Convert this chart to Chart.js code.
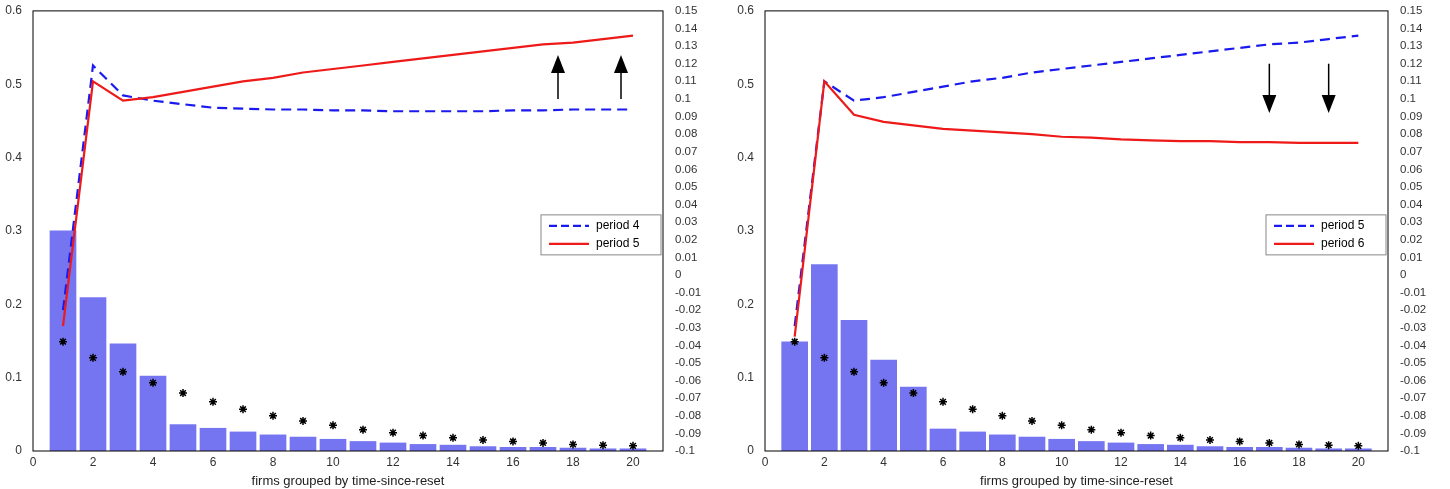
<!DOCTYPE html>
<html><head><meta charset="utf-8">
<script src="https://cdn.jsdelivr.net/npm/chart.js@4"></script>
<style>
body{margin:0;background:#fff;width:1450px;height:489px;overflow:hidden;display:flex}
.c{position:relative;width:725px;height:489px}
</style></head><body>
<div class="c"><canvas id="a"></canvas></div>
<div class="c"><canvas id="b"></canvas></div>
<script>
const xs = [1,2,3,4,5,6,7,8,9,10,11,12,13,14,15,16,17,18,19,20];
const barsA = [0.300,0.209,0.146,0.102,0.036,0.031,0.026,0.022,0.019,0.016,0.013,0.011,0.009,0.008,0.006,0.005,0.005,0.004,0.003,0.003];
const barsB = [0.149,0.254,0.178,0.124,0.087,0.030,0.026,0.022,0.019,0.016,0.013,0.011,0.009,0.008,0.006,0.005,0.005,0.004,0.003,0.003];
const stars = [0.149,0.127,0.108,0.093,0.079,0.067,0.057,0.048,0.041,0.035,0.029,0.025,0.021,0.018,0.015,0.013,0.011,0.009,0.008,0.007];
const period4 = [-0.020,0.119,0.102,0.099,0.097,0.095,0.0945,0.094,0.094,0.0935,0.0935,0.093,0.093,0.093,0.093,0.0935,0.0935,0.094,0.094,0.094];
const rising = [-0.029,0.110,0.099,0.101,0.104,0.107,0.110,0.112,0.115,0.117,0.119,0.121,0.123,0.125,0.127,0.129,0.131,0.132,0.134,0.136];
const period6 = [-0.035,0.110,0.091,0.087,0.085,0.083,0.082,0.081,0.080,0.0785,0.078,0.077,0.0765,0.076,0.076,0.0755,0.0755,0.075,0.075,0.075];
const leftTicks = [0,0.1,0.2,0.3,0.4,0.5,0.6];
const arrowsA = {xs:[17.5,19.6], from:0.100, to:0.125};
const arrowsB = {xs:[17.0,19.0], from:0.120, to:0.092};

function pts(v){return xs.map((x,i)=>({x:x,y:v[i]}));}

function make(id, bars, dashedVals, solidVals, dashedName, solidName, arrows, leftW){
  const extra = {
    id:'extra',
    afterDatasetsDraw(ch){
      const c=ch.ctx, xa=ch.scales.x, yr=ch.scales.y2, a=ch.chartArea;
      c.save();
      c.strokeStyle='#000'; c.lineWidth=1; c.strokeRect(a.left,a.top,a.right-a.left,a.bottom-a.top);
      c.fillStyle='#000'; c.lineWidth=1.5;
      arrows.xs.forEach(x=>{
        const px=xa.getPixelForValue(x), y0=yr.getPixelForValue(arrows.from), y1=yr.getPixelForValue(arrows.to);
        const dir = y1<y0?1:-1;
        c.beginPath(); c.moveTo(px,y0); c.lineTo(px,y1+dir*16); c.stroke();
        c.beginPath(); c.moveTo(px,y1); c.lineTo(px-7,y1+dir*18); c.lineTo(px+7,y1+dir*18); c.closePath(); c.fill();
      });
      const lx=a.right-122, ly=yr.getPixelForValue(0.033)-2, lw=120, lh=40;
      c.fillStyle='#fff'; c.fillRect(lx,ly,lw,lh);
      c.strokeStyle='#888'; c.lineWidth=1; c.strokeRect(lx,ly,lw,lh);
      c.font='12px "Liberation Sans", Arial'; c.fillStyle='#000'; c.textBaseline='middle';
      c.lineWidth=2.2;
      c.strokeStyle='#1a1aee'; c.setLineDash([8,4]);
      c.beginPath(); c.moveTo(lx+8,ly+11); c.lineTo(lx+48,ly+11); c.stroke();
      c.setLineDash([]); c.strokeStyle='#ee1a1a';
      c.beginPath(); c.moveTo(lx+8,ly+29); c.lineTo(lx+48,ly+29); c.stroke();
      c.fillText(dashedName,lx+55,ly+11); c.fillText(solidName,lx+55,ly+29);
      c.restore();
    }
  };
  new Chart(document.getElementById(id),{
    data:{datasets:[
      {type:'line',label:dashedName,data:pts(dashedVals),yAxisID:'y2',borderColor:'#1a1aee',borderDash:[10,6],borderWidth:2.2,pointRadius:0,tension:0,order:1},
      {type:'line',label:solidName,data:pts(solidVals),yAxisID:'y2',borderColor:'#ee1a1a',borderWidth:2.2,pointRadius:0,tension:0,order:0},
      {type:'scatter',label:'stars',data:pts(stars),yAxisID:'y',pointStyle:'star',radius:4,borderColor:'#000',borderWidth:1.5,backgroundColor:'#000',order:2},
      {type:'bar',label:'bars',data:pts(bars),yAxisID:'y',backgroundColor:'rgba(110,110,240,0.95)',borderWidth:0,barThickness:26,order:3}
    ]},
    plugins:[extra],
    options:{
      responsive:true,maintainAspectRatio:false,animation:false,
      layout:{padding:{top:7,bottom:0,right:2}},
      plugins:{legend:{display:false},tooltip:{enabled:false}},
      scales:{
        x:{type:'linear',offset:false,min:0,max:21,grid:{display:false,drawTicks:false},border:{display:false},
           ticks:{stepSize:2,padding:4,color:'#333',font:{size:12,family:'"Liberation Sans", Arial'},callback:v=>v%2===0&&v<=20?v:''},
           title:{display:true,text:'firms grouped by time-since-reset',color:'#222',font:{size:13,family:'"Liberation Sans", Arial'},padding:{top:0,bottom:0}}},
        y:{position:'left',min:0,max:0.6,grid:{display:false},border:{display:false},
           afterBuildTicks:s=>{s.ticks=leftTicks.map(v=>({value:v}));},
           afterFit:s=>{s.width=leftW;},
           ticks:{color:'#333',font:{size:12,family:'"Liberation Sans", Arial'},callback:v=>String(+v.toFixed(2))}},
        y2:{position:'right',min:-0.1,max:0.15,grid:{display:false},border:{display:false},
           afterBuildTicks:s=>{const t=[];for(let i=-10;i<=15;i++)t.push({value:i/100});s.ticks=t;},
           afterFit:s=>{s.width=60;},
           ticks:{autoSkip:false,color:'#333',font:{size:11.5,family:'"Liberation Sans", Arial'},padding:4,callback:v=>String(+v.toFixed(2))}}
      }
    }
  });
}
make('a',barsA,period4,rising,'period 4','period 5',arrowsA,33);
make('b',barsB,rising,period6,'period 5','period 6',arrowsB,40);
</script></body></html>
